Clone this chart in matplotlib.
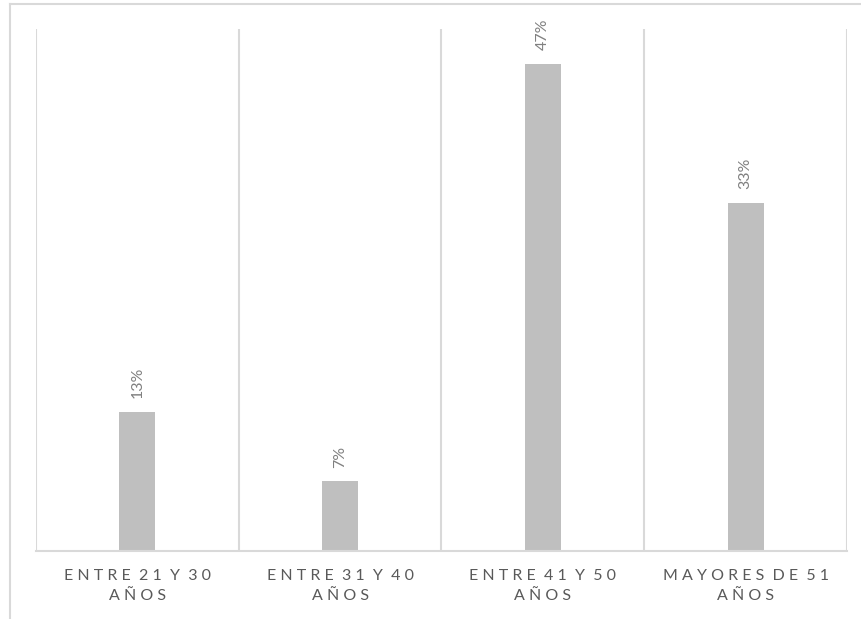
import matplotlib
matplotlib.use('Agg')
import numpy as np
from matplotlib import pyplot as plt
from matplotlib.lines import Line2D

categories = ["ENTRE 21 Y 30\nAÑOS", "ENTRE 31 Y 40\nAÑOS",
              "ENTRE 41 Y 50\nAÑOS", "MAYORES DE 51\nAÑOS"]
counts = [2, 1, 7, 5]
labels = ["13%", "7%", "47%", "33%"]

GRID = "#D9D9D9"
BAR = "#BFBFBF"
TEXT = "#595959"

plt.rcParams['font.family'] = ['Lato', 'DejaVu Sans']


def spaced_line(line):
    # letter-spaced caps for the category axis
    return "  ".join(" ".join(w) for w in line.split(" "))


shares = np.array(counts) / sum(counts)

fig = plt.figure(figsize=(8.62, 6.19), dpi=100)
ax = fig.add_axes([36 / 862, 68 / 619, 811 / 862, 522 / 619])

x = np.arange(len(categories))
ax.bar(x, shares, width=0.178, color=BAR, zorder=2)

for xi, v, lab in zip(x, shares, labels):
    ax.annotate(lab, xy=(xi, v), xytext=(0, 10), textcoords='offset points',
                rotation=90, ha='center', va='bottom', color="#808080", fontsize=11.5)

ax.set_xlim(-0.5, len(categories) - 0.5)
ax.set_ylim(0, 0.5)
for b in np.arange(-0.5, len(categories), 1.0):
    ax.axvline(b, color=GRID, lw=1.5, zorder=1)

for side in ["top", "right", "left"]:
    ax.spines[side].set_visible(False)
ax.spines["bottom"].set_color(GRID)
ax.spines["bottom"].set_linewidth(1.5)

ax.set_yticks([])
ax.set_xticks(x)
ax.set_xticklabels(["\n".join(spaced_line(l) for l in c.split("\n")) for c in categories],
                   color=TEXT, fontsize=11.5, linespacing=1.55)
ax.tick_params(axis='x', length=0, pad=13)

# outer chart frame
fig.add_artist(Line2D([10 / 862, 10 / 862], [0, 1 - 4 / 619], transform=fig.transFigure,
                      color=GRID, lw=1.5))
fig.add_artist(Line2D([10 / 862, 1], [1 - 4 / 619, 1 - 4 / 619], transform=fig.transFigure,
                      color=GRID, lw=1.5))

fig.savefig("out.png", dpi=100)
